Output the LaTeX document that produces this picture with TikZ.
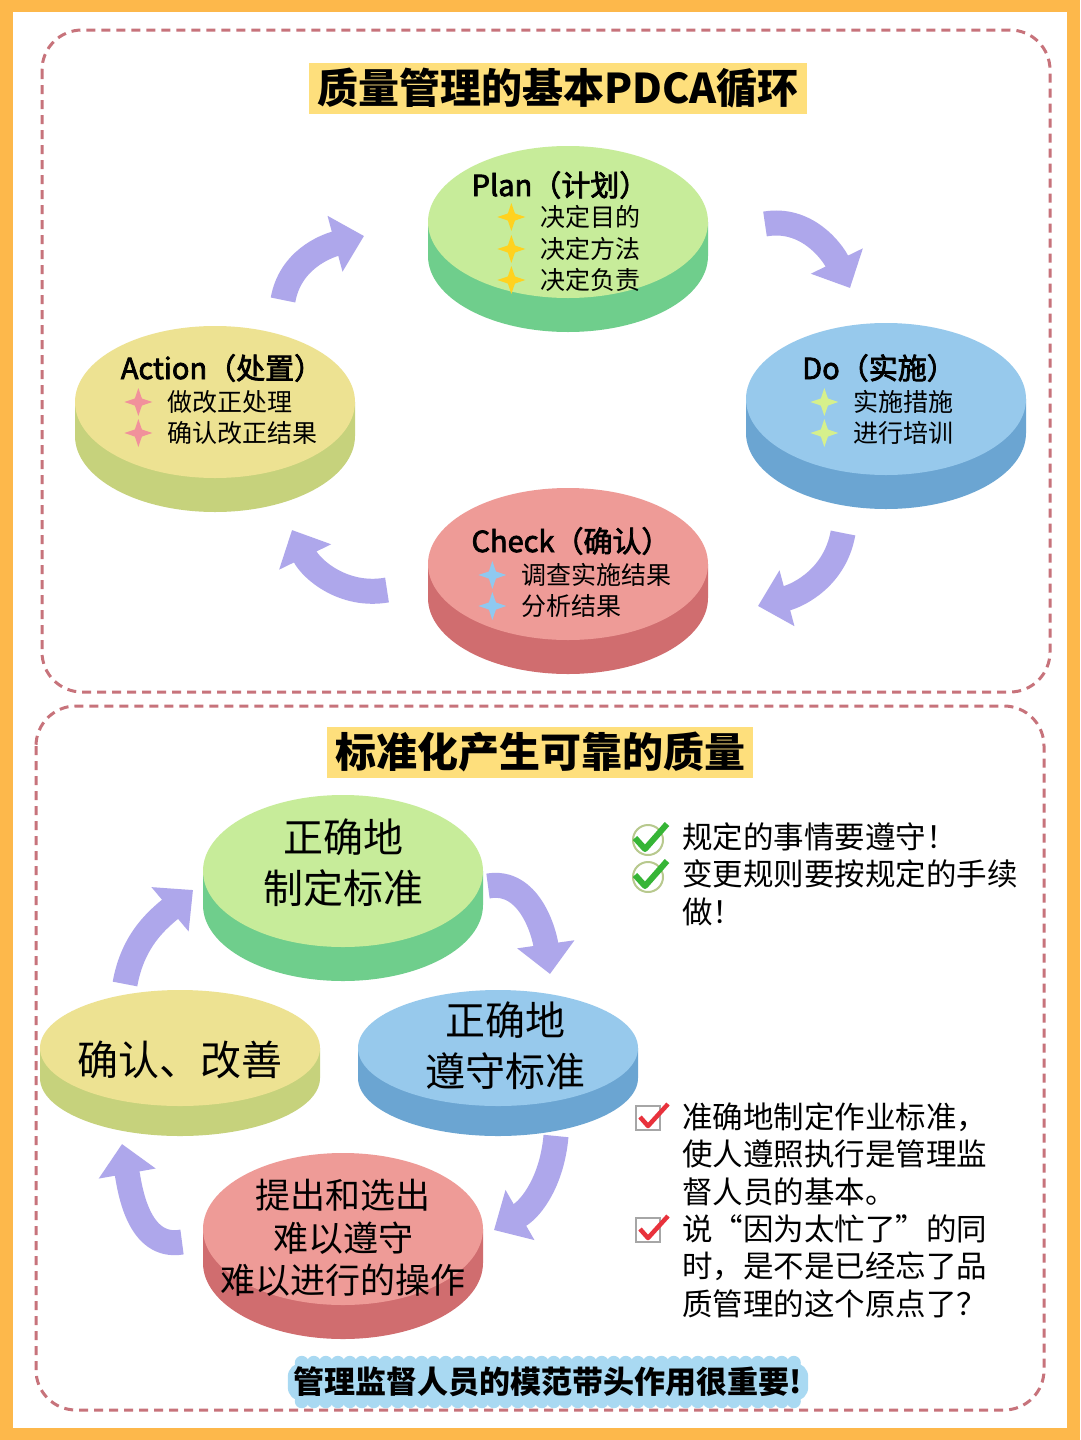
\documentclass[tikz,border=0pt]{standalone}
\usepackage{fontspec}
\setmainfont{Noto Sans CJK SC}
\newfontfamily\cjkmedium{Noto Sans CJK SC}[FakeBold=2.6]
\usepackage{xcolor}
\usetikzlibrary{arrows.meta,positioning,shapes.geometric,calc}

\definecolor{frameorange}{HTML}{FDB84B}
\definecolor{dashred}{HTML}{C7737B}
\definecolor{titleyellow}{HTML}{FEDF7C}
\definecolor{bannerblue}{HTML}{A9D9F2}
\definecolor{arrowpurple}{HTML}{AEA7EB}
\definecolor{greentop}{HTML}{C7EC9A}
\definecolor{greenside}{HTML}{6FCE8C}
\definecolor{bluetop}{HTML}{97C9EC}
\definecolor{blueside}{HTML}{6BA5D2}
\definecolor{redtop}{HTML}{EE9B97}
\definecolor{redside}{HTML}{D06D6F}
\definecolor{yellowtop}{HTML}{EDE292}
\definecolor{yellowside}{HTML}{C6D27C}
\definecolor{sparkyellow}{HTML}{FFD21F}
\definecolor{sparkgreen}{HTML}{D6F08C}
\definecolor{sparkblue}{HTML}{8FC9F0}
\definecolor{sparkpink}{HTML}{F1919B}
\definecolor{checkgreen}{HTML}{36B536}
\definecolor{checkring}{HTML}{B8C98E}
\definecolor{checkred}{HTML}{E8323C}

% disk: name, x, y, x radius, y radius, depth, top colour, side colour
\newcommand{\pdcadisk}[8]{%
  \fill[#8] (#2-#4,#3) -- (#2-#4,#3-#6) arc[start angle=180, end angle=360, x radius=#4pt, y radius=#5pt] -- (#2+#4,#3) -- cycle;
  \node[disktop, fill=#7, minimum width=2*#4pt, minimum height=2*#5pt] (#1) at (#2,#3) {};
}

\begin{document}
\begin{tikzpicture}[
    x=1pt, y=1pt,
    disktop/.style={ellipse, inner sep=0pt},
    disktitle/.style={inner sep=0pt, font=\fontsize{29}{34}\selectfont\cjkmedium},
    item/.style={anchor=west, inner sep=0pt, font=\fontsize{25}{30}\selectfont},
    spark/.style={star, star points=4, star point ratio=2.8, minimum size=28pt, inner sep=0pt},
    disktext/.style={align=center, inner sep=0pt, font=\fontsize{40}{51}\selectfont},
    headline/.style={fill=titleyellow, inner xsep=8pt, minimum height=51pt, font=\fontsize{41}{46}\selectfont\bfseries},
    note/.style={anchor=north west, align=left, inner sep=0pt, font=\fontsize{30.5}{37.6}\selectfont},
    cyclearrow/.style={draw=arrowpurple, line width=25pt, -{Triangle[length=30pt, width=56pt]}},
    dashbox/.style={draw=dashred, line width=3pt, dash pattern=on 9pt off 6pt, rounded corners=40pt},
  ]
  \useasboundingbox (0,0) rectangle (1080,-1440);
  \fill[frameorange] (0,0) rectangle (1080,-1440);
  \fill[white] (13,-12) rectangle (1067,-1428);

  % Frames
  \draw[dashbox] (42,-30) rectangle (1050,-692);
  \draw[dashbox] (36,-706) rectangle (1044,-1410);

  % Upper part: PDCA
  \node[headline] (pdcatitle) at (558,-88) {质量管理的基本PDCA循环};

  \pdcadisk{plan}{568}{-222}{140}{76}{34}{greentop}{greenside}
  \pdcadisk{do}{886}{-399}{140}{76}{34}{bluetop}{blueside}
  \pdcadisk{check}{568}{-564}{140}{76}{34}{redtop}{redside}
  \pdcadisk{action}{215}{-402}{140}{76}{34}{yellowtop}{yellowside}

  \node[disktitle] (plantitle) at (560,-185) {Plan（计划）};
  \node[item] (plan1) at (540,-217) {决定目的};
  \node[item] (plan2) at (540,-249) {决定方法};
  \node[item] (plan3) at (540,-280) {决定负责};
  \node[spark, fill=sparkyellow, left=14pt of plan1] (planstar1) {};
  \node[spark, fill=sparkyellow, left=14pt of plan2] (planstar2) {};
  \node[spark, fill=sparkyellow, left=14pt of plan3] (planstar3) {};

  \node[disktitle] (dotitle) at (879,-368) {Do（实施）};
  \node[item] (do1) at (853,-402) {实施措施};
  \node[item] (do2) at (853,-433) {进行培训};
  \node[spark, fill=sparkgreen, left=14pt of do1] (dostar1) {};
  \node[spark, fill=sparkgreen, left=14pt of do2] (dostar2) {};

  \node[disktitle] (checktitle) at (571,-541) {Check（确认）};
  \node[item] (check1) at (521,-575) {调查实施结果};
  \node[item] (check2) at (521,-606) {分析结果};
  \node[spark, fill=sparkblue, left=14pt of check1] (checkstar1) {};
  \node[spark, fill=sparkblue, left=14pt of check2] (checkstar2) {};

  \node[disktitle] (actiontitle) at (222,-368) {Action（处置）};
  \node[item] (action1) at (167,-402) {做改正处理};
  \node[item] (action2) at (167,-433) {确认改正结果};
  \node[spark, fill=sparkpink, left=14pt of action1] (actionstar1) {};
  \node[spark, fill=sparkpink, left=14pt of action2] (actionstar2) {};

  % Cycle arrows
  \coordinate (ap0) at (283,-300); \coordinate (ap1) at (364,-236);
  \coordinate (pd0) at (765,-224); \coordinate (pd1) at (850,-288);
  \coordinate (dc0) at (843,-533); \coordinate (dc1) at (758,-606);
  \coordinate (ca0) at (387,-590); \coordinate (ca1) at (292,-530);
  \draw[cyclearrow] (ap0) to[out=80, in=195] (ap1);
  \draw[cyclearrow] (pd0) to[out=10, in=116] (pd1);
  \draw[cyclearrow] (dc0) to[out=-100, in=15] (dc1);
  \draw[cyclearrow] (ca0) to[out=190, in=-64] (ca1);

  % Lower part: standards
  \node[headline] (stdtitle) at (540,-752) {标准化产生可靠的质量};

  \pdcadisk{setstd}{343}{-871}{140}{76}{34}{greentop}{greenside}
  \pdcadisk{keepstd}{498}{-1048}{140}{58}{30}{bluetop}{blueside}
  \pdcadisk{improve}{180}{-1048}{140}{58}{30}{yellowtop}{yellowside}
  \pdcadisk{hardops}{343}{-1229}{140}{76}{34}{redtop}{redside}

  \node[disktext] (setstdtext) at (343,-863) {正确地\\制定标准};
  \node[disktext] (keepstdtext) at (505,-1046) {正确地\\遵守标准};
  \node[disktext, font=\fontsize{41}{50}\selectfont] (improvetext) at (180,-1060) {确认、改善};
  \node[disktext, font=\fontsize{35}{42.5}\selectfont] (hardopstext) at (343,-1238) {提出和选出\\难以遵守\\难以进行的操作};

  \coordinate (is0) at (125,-984); \coordinate (is1) at (193,-890);
  \coordinate (sk0) at (488,-886); \coordinate (sk1) at (550,-974);
  \coordinate (kh0) at (556,-1136); \coordinate (kh1) at (494,-1230);
  \coordinate (hi0) at (182,-1242); \coordinate (hi1) at (122,-1144);
  \draw[cyclearrow] (is0) to[out=80, in=220] (is1);
  \draw[cyclearrow] (sk0) to[out=10, in=98] (sk1);
  \draw[cyclearrow] (kh0) to[out=-95, in=30] (kh1);
  \draw[cyclearrow] (hi0) to[out=190, in=-80] (hi1);

  % Notes
  \node[note] (rules) at (682,-822) {规定的事情要遵守！\\变更规则要按规定的手续\\做！};
  \foreach \cy in {840,877} {
    \draw[checkring, line width=2pt] (648,-\cy) circle[radius=15pt];
    \draw[checkgreen, line width=6pt, line join=round] (635,-\cy+2) -- (645,-\cy-9) -- (667,-\cy+16);
  }

  \node[note] (duty) at (682,-1102) {准确地制定作业标准，\\使人遵照执行是管理监\\督人员的基本。};
  \node[note] (busy) at (682,-1214) {说{\addfontfeatures{CharacterWidth=Full}“}因为太忙了{\addfontfeatures{CharacterWidth=Full}”}的同\\时，是不是已经忘了品\\质管理的这个原点了？};
  \foreach \cy in {1118,1230} {
    \draw[gray!70, line width=1.5pt] (636,-\cy+12) rectangle (660,-\cy-12);
    \draw[checkred, line width=4.5pt, line join=round] (640,-\cy+1) -- (648,-\cy-8) -- (668,-\cy+14);
  }

  % Motto with scalloped highlight
  \node[minimum width=520pt, minimum height=38pt, inner sep=0pt] (mottobox) at (548,-1382) {};
  \fill[bannerblue, rounded corners=14pt] (mottobox.north west) rectangle (mottobox.south east);
  \foreach \i in {0,...,41} {
    \fill[bannerblue] ($(mottobox.north west)+(14+12*\i,0)$) circle[radius=7pt];
    \fill[bannerblue] ($(mottobox.south west)+(14+12*\i,0)$) circle[radius=7pt];
  }
  \node[font=\fontsize{31}{36}\selectfont\bfseries, inner sep=0pt] (motto) at (mottobox) {管理监督人员的模范带头作用很重要!};
\end{tikzpicture}
\end{document}
